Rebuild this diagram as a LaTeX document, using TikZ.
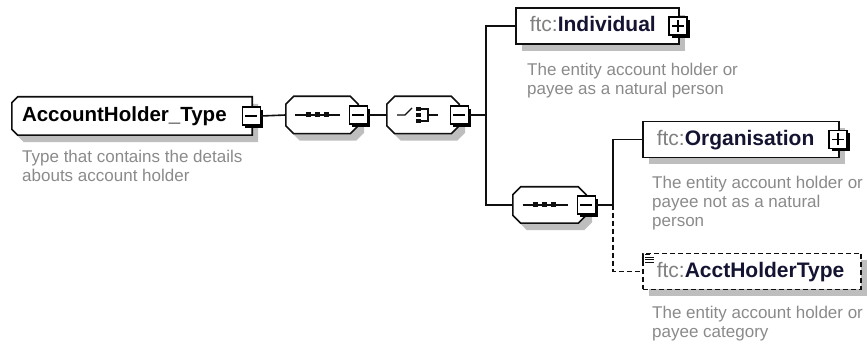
\documentclass[tikz,border=0pt]{standalone}
\usepackage{fontspec}
\setmainfont{Liberation Sans}
\usetikzlibrary{shadows}
\definecolor{descgray}{RGB}{138,138,138}
\definecolor{ftcgray}{RGB}{128,128,128}
\definecolor{namecol}{RGB}{20,20,50}
\definecolor{shadowgray}{RGB}{190,190,190}
\definecolor{linecol}{RGB}{15,15,15}
\newcommand\namefont{\fontsize{21}{24}\selectfont}
\newcommand\titlefont{\fontsize{20.5}{24}\selectfont\bfseries}
\newcommand\descfont{\fontsize{17}{19}\selectfont}
\newcommand\ftc[1]{{\color{ftcgray}ftc:}{\bfseries\color{namecol}#1}}
\newcommand\octpath[2]{([xshift=#2]#1.north west) -- ([xshift=-#2]#1.north east) -- ([yshift=-#2]#1.north east) -- ([yshift=#2]#1.south east) -- ([xshift=-#2]#1.south east) -- ([xshift=#2]#1.south west) -- ([yshift=#2]#1.south west) -- ([yshift=-#2]#1.north west) -- cycle}
\begin{document}
\begin{tikzpicture}[x=1pt,y=-1pt,
  ln/.style={line width=1.6pt, draw=linecol},
  dashpat/.style={dash pattern=on 5pt off 3pt},
  shad/.style={drop shadow={shadow xshift=6pt, shadow yshift=-7pt, fill=shadowgray, opacity=1}},
  hold/.style={rectangle, inner sep=0pt, draw=none},
  elem/.style={rectangle, ln, fill=white, shad, anchor=west, minimum height=36pt, inner xsep=14pt, inner ysep=0pt, text height=15pt, text depth=3pt, font=\namefont, align=left},
  titletext/.style={inner sep=0pt, anchor=west, text height=15pt, text depth=3pt, font=\titlefont, text=black},
  desc/.style={anchor=north west, inner sep=0pt, font=\descfont, text=descgray, align=left},
  sq/.style={rectangle, draw=black, line width=1.3pt, fill=white, minimum size=18pt, inner sep=0pt, drop shadow={shadow xshift=3pt, shadow yshift=-3pt, fill=black, opacity=1}},
  minus/.style={sq, path picture={\draw[line width=1.3pt] ([xshift=3pt]path picture bounding box.west) -- ([xshift=-3pt]path picture bounding box.east);}},
  plus/.style={sq, path picture={\draw[line width=1.3pt] ([xshift=3pt]path picture bounding box.west) -- ([xshift=-3pt]path picture bounding box.east) ([yshift=-3pt]path picture bounding box.north) -- ([yshift=3pt]path picture bounding box.south);}},
  icon/.style={line width=1.4pt, draw=linecol}
]
\useasboundingbox (0,0) rectangle (868,347);

% root type
\node[hold, minimum width=240pt, minimum height=38pt] (ah) at (132,116) {};
\draw[ln, fill=white, shad] ([xshift=6pt]ah.north west) -- (ah.north east) -- (ah.south east) -- ([xshift=6pt]ah.south west) -- ([yshift=6pt]ah.south west) -- ([yshift=-6pt]ah.north west) -- cycle;
\node[titletext] (ahtitle) at ([xshift=10pt]ah.west) {AccountHolder\_Type};
\node[minus] (ahm) at ([xshift=-1pt]ah.east) {};
\node[desc] (ahd) at (22,149.6) {Type that contains the details\\abouts account holder};

% first sequence
\node[hold, minimum width=72pt, minimum height=37pt] (seqa) at (322,115) {};
\draw[ln, fill=white, shad] \octpath{seqa}{8pt};
\begin{scope}[shift={(seqa.center)}]
  \draw[icon] (-27,0) -- (18,0);
  \foreach \d in {-14,-5,4} \fill[linecol] (\d-2.5,-2.5) rectangle (\d+2.5,2.5);
\end{scope}
\node[minus] (seqam) at (seqa.east) {};
\draw[ln] (ahm.east) -- (seqa.west);

% choice
\node[hold, minimum width=72pt, minimum height=37pt] (cha) at (423,115) {};
\draw[ln, fill=white, shad] \octpath{cha}{8pt};
\begin{scope}[shift={(cha.center)}]
  \draw[icon] (-26,0) -- (-18,0) -- (-11,-7);
  \foreach \d in {-6,0,6} \fill[linecol] (-7.5,\d-2.2) rectangle (-2.5,\d+2.2);
  \draw[icon] (-3,-6) -- (5,-6) -- (5,6) -- (-3,6);
  \draw[icon] (5,0) -- (15,0);
\end{scope}
\node[minus] (cham) at (cha.east) {};
\draw[ln] (seqam.east) -- (cha.west);

% second sequence
\node[hold, minimum width=73pt, minimum height=36pt] (seqb) at (549.5,205) {};
\draw[ln, fill=white, shad] \octpath{seqb}{8pt};
\begin{scope}[shift={(seqb.center)}]
  \draw[icon] (-27,0) -- (18,0);
  \foreach \d in {-14,-5,4} \fill[linecol] (\d-2.5,-2.5) rectangle (\d+2.5,2.5);
\end{scope}
\node[minus] (seqbm) at (seqb.east) {};

% elements
\node[elem, text width=135pt] (ind) at (515,26) {\ftc{Individual}};
\node[plus] (indp) at ([xshift=-1.5pt]ind.east) {};
\node[desc] (indd) at (527,62.6) {The entity account holder or\\payee as a natural person};

\node[elem, text width=168pt] (org) at (642,139.5) {\ftc{Organisation}};
\node[plus] (orgp) at ([xshift=-1.5pt]org.east) {};
\node[desc] (orgd) at (652,175.6) {The entity account holder or\\payee not as a natural\\person};

\node[elem, dashpat, text width=190pt] (aht) at (642,271.5) {\ftc{AcctHolderType}};
\draw[line width=1.3pt, linecol] ([xshift=1pt,yshift=-2pt]aht.north west) -- ++(0,8);
\draw[line width=1pt, linecol] ([xshift=3pt,yshift=-2pt]aht.north west) -- ++(5,0)
  ([xshift=3pt,yshift=-4.5pt]aht.north west) -- ++(9,0)
  ([xshift=3pt,yshift=-7pt]aht.north west) -- ++(9,0)
  ([xshift=3pt,yshift=-9.5pt]aht.north west) -- ++(9,0);
\node[desc] (ahtd) at (652,305.6) {The entity account holder or\\payee category};

% bus lines
\coordinate (busa) at (486,205);
\draw[ln] (cham.east) -- (cham.east -| busa);
\draw[ln] (ind.west) -| (busa) -- (seqb.west);
\coordinate (busb) at (613,205);
\draw[ln] (seqbm.east) -- (busb) |- (org.west);
\draw[ln, dashpat] (busb) |- (aht.west);
\end{tikzpicture}
\end{document}
